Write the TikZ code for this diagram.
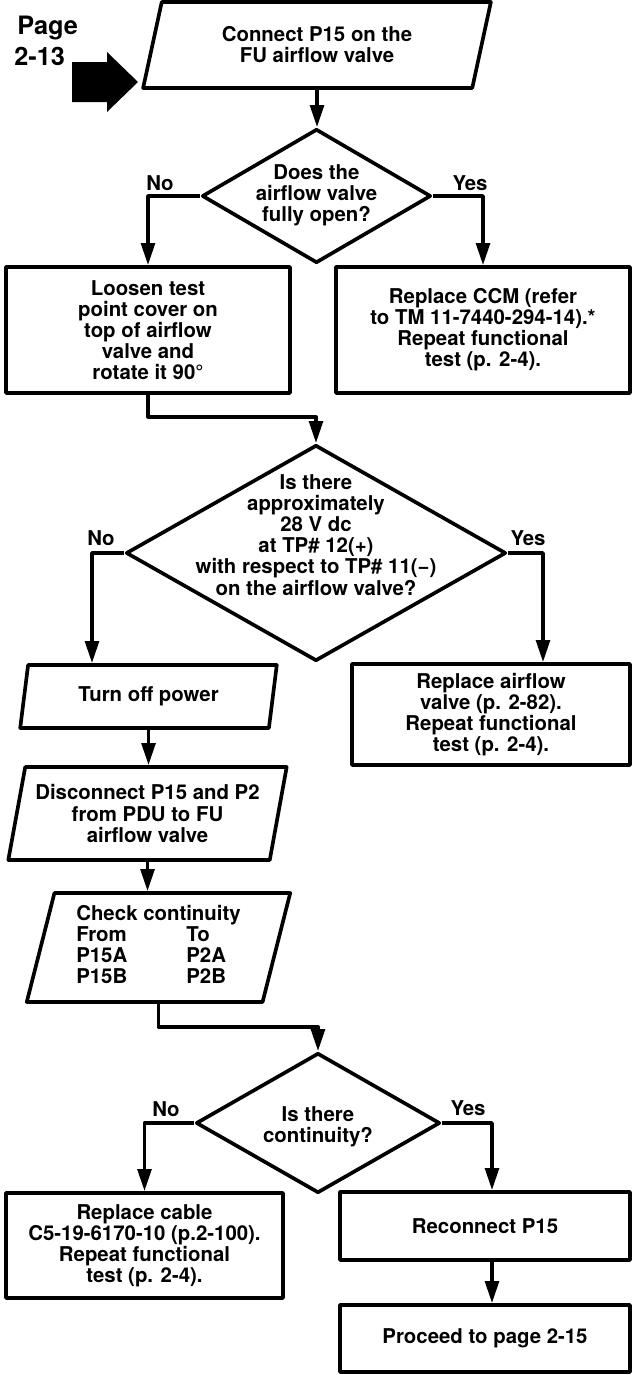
\documentclass[tikz,border=0pt]{standalone}
\usepackage{fontspec}
\setmainfont{TeX Gyre Heros}
\usetikzlibrary{shapes.geometric,arrows.meta}
\newcommand{\upx}{0.025cm}
\tikzset{
  txt/.style={font=\bfseries\fontsize{14.5}{15}\selectfont, align=center, inner sep=0pt},
  box/.style={txt, draw, rectangle, line width=2.6pt},
  decision/.style={draw, diamond, line width=2.6pt, inner sep=0pt},
  io/.style={txt, draw, trapezium, trapezium stretches=true, line width=2.6pt},
  flow/.style={line width=2.6pt, -{Triangle[length=0.55cm,width=0.34cm]}},
}
\begin{document}
\begin{tikzpicture}[x=\upx, y=-\upx, line join=round]
\useasboundingbox (0,0) rectangle (634,1375);
% entry from page 2-13
\node[font=\bfseries\fontsize{18}{21}\selectfont, inner sep=0pt, anchor=base west] (page) at (17,34) {Page};
\node[font=\bfseries\fontsize{18}{21}\selectfont, inner sep=0pt, anchor=base west] (pagenum) at (14,65) {2-13};
\fill (72,62) -- (107,62) -- (107,52) -- (138,82) -- (107,112) -- (107,102) -- (72,102) -- cycle;

% steps
\node[io, minimum width=348*\upx, minimum height=86*\upx,
  trapezium left angle=72.6, trapezium right angle=107.4] (conn) at (317,45)
  {Connect P15 on the\\FU airflow valve};
\node[decision, minimum width=229*\upx, minimum height=134*\upx] (d1) at (316.5,196) {};
\node[txt] (d1t) at (316.5,195) {Does the\\airflow valve\\fully open?};
\node[txt] (no1) at (160,183) {No};
\node[txt] (yes1) at (470,183) {Yes};

\node[box, minimum width=284*\upx, minimum height=126*\upx] (loosen) at (148,330)
  {Loosen test\\point cover on\\top of airflow\\valve and\\rotate it 90°};
\node[box, minimum width=294*\upx, minimum height=126*\upx] (ccm) at (483,330)
  {Replace CCM (refer\\to TM 11-7440-294-14).*\\Repeat functional\\test (p. 2-4).};

\node[decision, minimum width=380*\upx, minimum height=216*\upx] (d2) at (316,553) {};
\node[txt] (d2t) at (316,535) {Is there\\approximately\\28 V dc\\at TP\# 12(+)\\with respect to TP\# 11(−)\\on the airflow valve?};
\node[txt] (no2) at (101,538) {No};
\node[txt] (yes2) at (528,538) {Yes};
\coordinate (nob2) at (92,553);
\coordinate (yesb2) at (543,553);

\node[io, minimum width=257*\upx, minimum height=63*\upx,
  trapezium left angle=76.6, trapezium right angle=103.4] (toff) at (148.5,696.5)
  {Turn off power};
\node[box, minimum width=278*\upx, minimum height=101*\upx] (airv) at (491,714.5)
  {Replace airflow\\valve (p. 2-82).\\Repeat functional\\test (p. 2-4).};
\node[io, minimum width=279*\upx, minimum height=93*\upx,
  trapezium left angle=74.9, trapezium right angle=105.1] (disc) at (147.5,813.5)
  {Disconnect P15 and P2\\from PDU to FU\\airflow valve};
\node[io, minimum width=264*\upx, minimum height=109*\upx,
  trapezium left angle=75.6, trapezium right angle=104.4] (check) at (158.5,947.5)
  {\begin{tabular}{@{}p{2.75cm}@{}l@{}}
    \multicolumn{2}{@{}l@{}}{Check continuity}\\
    From & To\\
    P15A & P2A\\
    P15B & P2B
  \end{tabular}};

\node[decision, minimum width=244*\upx, minimum height=140*\upx] (d3) at (318,1123) {};
\node[txt] (d3t) at (318,1127) {Is there\\continuity?};
\node[txt] (no3) at (166,1109) {No};
\node[txt] (yes3) at (468,1108) {Yes};
\coordinate (yesb3) at (492,1123);

\node[box, minimum width=277*\upx, minimum height=105*\upx] (cable) at (144.5,1245.5)
  {Replace cable\\C5-19-6170-10 (p.2-100).\\Repeat functional\\test (p. 2-4).};
\node[box, minimum width=290*\upx, minimum height=68*\upx] (recon) at (485,1226)
  {Reconnect P15};
\node[box, minimum width=290*\upx, minimum height=67*\upx] (proceed) at (485,1338.5)
  {Proceed to page 2-15};

% connectors
\draw[flow] (conn.south) -- (conn.south |- d1.north);
\draw[flow] (d1.west) -| (loosen.north);
\draw[flow] (d1.east) -| (ccm.north);
\draw[flow] (loosen.south) -- ++(0,22) -| (d2.north);
\draw[flow] (d2.west) -| (toff.north -| nob2);
\draw[flow] (d2.east) -| (airv.north -| yesb2);
\draw[flow] (toff.south) -- (toff.south |- disc.north);
\draw[flow] (disc.south) -- (disc.south |- check.north);
\draw[flow] (check.south) -- ++(0,23) -| (d3.north);
\draw[flow] (d3.west) -| (cable.north);
\draw[flow] (d3.east) -| (recon.north -| yesb3);
\draw[flow] (recon.south -| yesb3) -- (proceed.north -| yesb3);
\end{tikzpicture}
\end{document}
